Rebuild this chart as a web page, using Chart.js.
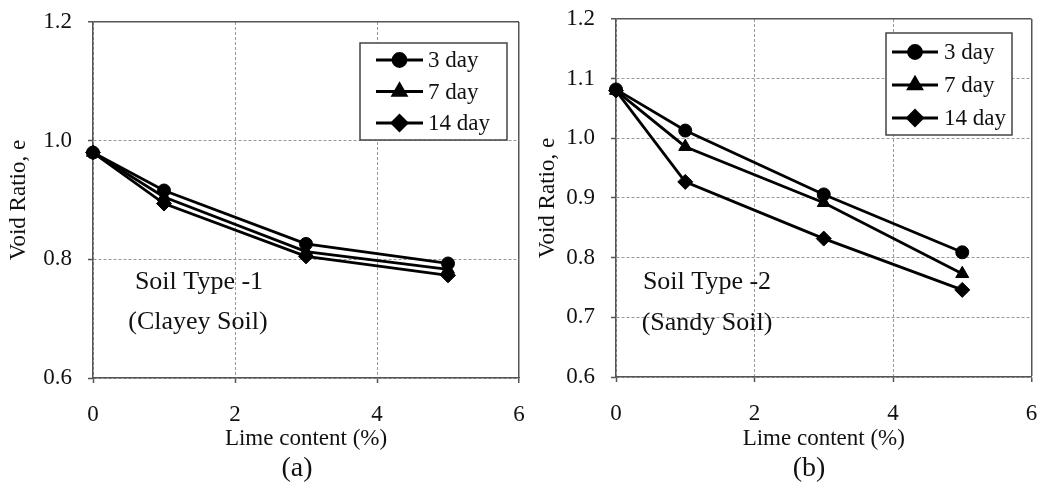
<!DOCTYPE html>
<html>
<head>
<meta charset="utf-8">
<script src="https://cdn.jsdelivr.net/npm/chart.js@4.4.1/dist/chart.umd.min.js"></script>
<style>
  html, body { margin: 0; padding: 0; background: #fff; }
  #wrap { position: relative; width: 1040px; height: 486px; overflow: hidden; }
  canvas { position: absolute; top: 0; }
  #chartA { left: 0; }
  #chartB { left: 520px; }
</style>
</head>
<body>
<div id="wrap">
  <canvas id="chartA" width="530" height="486"></canvas>
  <canvas id="chartB" width="520" height="486"></canvas>
</div>
<script>
const limeContent = [0, 1, 3, 5];
const seriesNames = ['3 day', '7 day', '14 day'];
const markerStyles = ['circle', 'triangle', 'rectRot'];

// (a) clayey soil
const clayey3 = [0.98, 0.916, 0.826, 0.793];
const clayey7 = [0.98, 0.905, 0.813, 0.783];
const clayey14 = [0.98, 0.894, 0.805, 0.773];

// (b) sandy soil
const sandy3 = [1.082, 1.013, 0.906, 0.809];
const sandy7 = [1.08, 0.986, 0.892, 0.773];
const sandy14 = [1.08, 0.927, 0.832, 0.746];

const xTicks = [0, 2, 4, 6];
const yTicksA = [0.6, 0.8, 1.0, 1.2];
const yTicksB = [0.6, 0.7, 0.8, 0.9, 1.0, 1.1, 1.2];

Chart.defaults.font.family = "'Liberation Serif', 'Times New Roman', serif";
Chart.defaults.color = '#111';

const toPoints = (ys) => ys.map((y, i) => ({ x: limeContent[i], y: y }));

const makeDatasets = (seriesList) => seriesList.map((ys, i) => ({
    label: seriesNames[i],
    data: toPoints(ys),
    borderColor: '#000',
    backgroundColor: '#000',
    borderWidth: 2.8,
    pointStyle: markerStyles[i],
    pointRadius: i === 0 ? 6.5 : 7.5,
    pointBorderWidth: 1,
    clip: false
}));

// legend box + soil label + panel letter, drawn on top of the plot
const panelText = {
    id: 'panelText',
    afterDraw(chart, args, opts) {
        const ctx = chart.ctx;
        const lg = opts.legend;
        ctx.save();
        ctx.fillStyle = '#fff';
        ctx.fillRect(lg.x, lg.y, lg.w, lg.h);
        ctx.strokeStyle = '#444';
        ctx.lineWidth = 1.5;
        ctx.strokeRect(lg.x, lg.y, lg.w, lg.h);

        ctx.font = "23px 'Liberation Serif', serif";
        ctx.textBaseline = 'middle';
        ctx.textAlign = 'left';
        chart.data.datasets.forEach((ds, i) => {
            const y = lg.y + lg.first + i * lg.gap;
            ctx.strokeStyle = '#000';
            ctx.lineWidth = 2.8;
            ctx.beginPath();
            ctx.moveTo(lg.x + lg.lineFrom, y);
            ctx.lineTo(lg.x + lg.lineTo, y);
            ctx.stroke();
            ctx.fillStyle = '#000';
            Chart.helpers.drawPoint(ctx, {
                pointStyle: ds.pointStyle,
                radius: ds.pointRadius,
                borderWidth: 1,
                rotation: 0
            }, lg.x + (lg.lineFrom + lg.lineTo) / 2, y);
            ctx.fillStyle = '#111';
            ctx.fillText(ds.label, lg.x + lg.textX, y + 1);
        });

        ctx.textAlign = 'center';
        ctx.font = "26px 'Liberation Serif', serif";
        ctx.fillStyle = '#111';
        opts.notes.forEach(n => ctx.fillText(n.text, n.x, n.y));
        ctx.font = "28px 'Liberation Serif', serif";
        ctx.fillText(opts.letter.text, opts.letter.x, opts.letter.y);
        ctx.restore();
    }
};

function buildChart(canvasId, datasets, yTicks, box, extra) {
    const yMin = yTicks[0], yMax = yTicks[yTicks.length - 1];
    const xMin = xTicks[0], xMax = xTicks[xTicks.length - 1];
    const canvas = document.getElementById(canvasId);
    const gridColor = (max) => (c) => (c.tick && c.tick.value === max) ? '#555' : '#9a9a9a';
    const gridDash = (max) => (c) => (c.tick && c.tick.value === max) ? [] : [3, 2];
    const gridWidth = (max) => (c) => (c.tick && c.tick.value === max) ? 1.5 : 1;

    return new Chart(canvas, {
        type: 'line',
        data: { datasets: datasets },
        options: {
            responsive: false,
            animation: false,
            devicePixelRatio: 1,
            layout: { padding: { top: box.top, right: box.right, left: 0, bottom: 30 } },
            plugins: {
                legend: { display: false },
                tooltip: { enabled: false },
                panelText: extra
            },
            scales: {
                x: {
                    type: 'linear',
                    min: xMin,
                    max: xMax,
                    afterBuildTicks: (s) => { s.ticks = xTicks.map(v => ({ value: v })); },
                    afterFit: (s) => {
                        s.height = canvas.height - 30 - box.bottom;
                        s.paddingLeft = 0;
                        s.paddingRight = 0;
                    },
                    ticks: {
                        font: { size: 23 },
                        padding: 18,
                        maxRotation: 0,
                        callback: (v) => String(v)
                    },
                    grid: {
                        color: gridColor(xMax),
                        lineWidth: gridWidth(xMax),
                        tickColor: '#555',
                        tickLength: 5,
                        tickWidth: 1.5
                    },
                    border: { color: '#555', width: 1.5, dash: gridDash(xMax) },
                    title: {
                        display: true,
                        text: 'Lime content (%)',
                        font: { size: 23 },
                        padding: { top: 0, bottom: 3 }
                    }
                },
                y: {
                    type: 'linear',
                    min: yMin,
                    max: yMax,
                    afterBuildTicks: (s) => { s.ticks = yTicks.map(v => ({ value: v })); },
                    afterFit: (s) => {
                        s.width = box.left;
                        s.paddingTop = 0;
                        s.paddingBottom = 0;
                    },
                    ticks: {
                        font: { size: 23 },
                        padding: 16,
                        callback: (v) => Number(v).toFixed(1)
                    },
                    grid: {
                        color: gridColor(yMax),
                        lineWidth: gridWidth(yMax),
                        tickColor: '#555',
                        tickLength: 5,
                        tickWidth: 1.5
                    },
                    border: { color: '#555', width: 1.5, dash: gridDash(yMax) },
                    title: {
                        display: true,
                        text: 'Void Ratio, e',
                        font: { size: 23 },
                        padding: { top: box.titlePad, bottom: 0 }
                    }
                }
            }
        },
        plugins: [panelText]
    });
}

buildChart('chartA', makeDatasets([clayey3, clayey7, clayey14]), yTicksA,
    { left: 93, right: 11, top: 22, bottom: 378, titlePad: 5 },
    {
        legend: { x: 360, y: 43, w: 147, h: 97, first: 17, gap: 31.5, lineFrom: 16, lineTo: 63, textX: 68 },
        notes: [
            { text: 'Soil Type -1', x: 199, y: 282 },
            { text: '(Clayey Soil)', x: 198, y: 322 }
        ],
        letter: { text: '(a)', x: 297, y: 469 }
    });

buildChart('chartB', makeDatasets([sandy3, sandy7, sandy14]), yTicksB,
    { left: 96, right: 7, top: 19, bottom: 377, titlePad: 14 },
    {
        legend: { x: 366, y: 33, w: 126, h: 102, first: 19, gap: 33, lineFrom: 6, lineTo: 52, textX: 58 },
        notes: [
            { text: 'Soil Type -2', x: 187, y: 282 },
            { text: '(Sandy Soil)', x: 187, y: 323 }
        ],
        letter: { text: '(b)', x: 289, y: 469 }
    });
</script>
</body>
</html>
